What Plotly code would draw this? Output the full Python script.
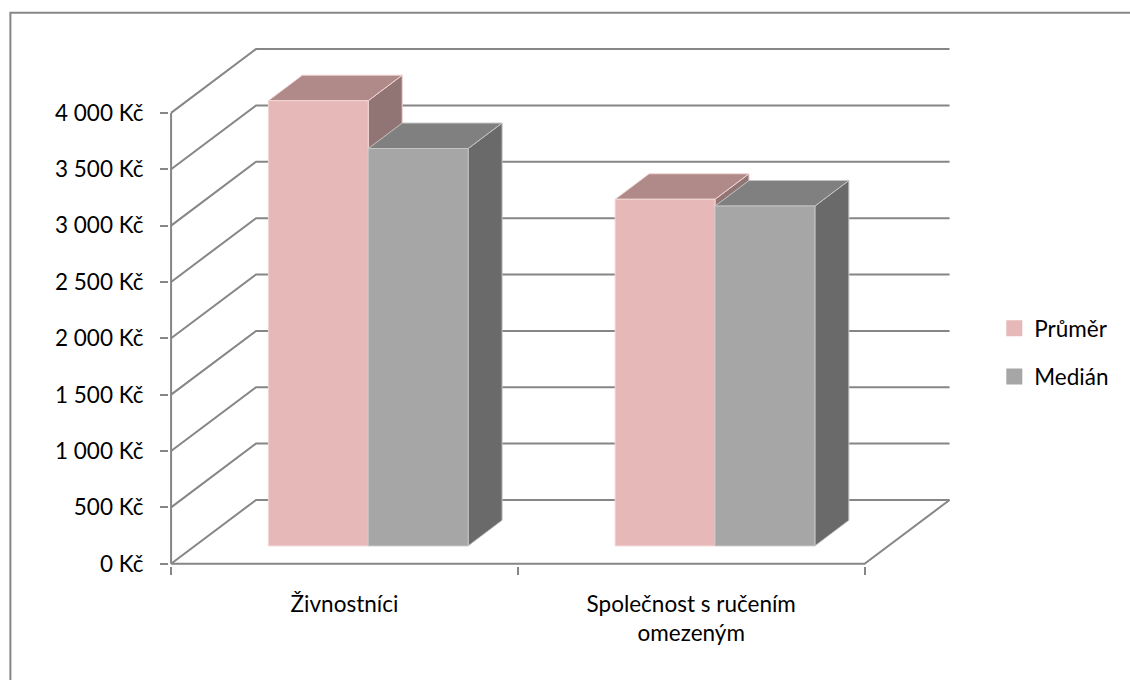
import plotly.graph_objects as go

# ---- data -------------------------------------------------------------
categories = ["Živnostníci", "Společnost s ručením<br>omezeným"]
series_names = ["Průměr", "Medián"]
prumer = [3950, 3075]
median = [3525, 3015]
y_ticks = [0, 500, 1000, 1500, 2000, 2500, 3000, 3500, 4000]
y_tick_labels = ["0 Kč", "500 Kč", "1 000 Kč", "1 500 Kč", "2 000 Kč",
                 "2 500 Kč", "3 000 Kč", "3 500 Kč", "4 000 Kč"]

# ---- look -------------------------------------------------------------
FONT = "Lato"
FONT_SIZE = 22.5
TEXT = "#000000"
GRID = "#868686"
front_col = ["#E6B9B8", "#A6A6A6"]
top_col = ["#B08A89", "#808080"]
side_col = ["#917574", "#6A6A6A"]
edge_col = ["#F2D6D5", "#C4C4C4"]

# oblique depth: full depth shifts by DX category units and DY Kč
DX = 0.245
DY = 566.0
D0, D1 = 0.28, 0.68        # depth band occupied by the bars
BAR_W = 0.288              # width of one bar, in category units

X0, X1 = -0.5, len(categories) - 0.5


def proj(x, y, d):
    return x + d * DX, y + d * DY


def poly(points):
    xs = [p[0] for p in points] + [points[0][0]]
    ys = [p[1] for p in points] + [points[0][1]]
    return xs, ys


fig = go.Figure()

# walls: gridlines on the left side wall and back wall
for t in y_ticks:
    a = proj(X0, t, 0)
    b = proj(X0, t, 1)
    c = proj(X1, t, 1)
    fig.add_trace(go.Scatter(x=[a[0], b[0], c[0]], y=[a[1], b[1], c[1]],
                             mode="lines", line=dict(color=GRID, width=2),
                             hoverinfo="skip", showlegend=False))
# floor: front edge and right edge
fr = proj(X1, 0, 0)
br = proj(X1, 0, 1)
fig.add_trace(go.Scatter(x=[X0, fr[0], br[0]], y=[0, fr[1], br[1]],
                         mode="lines", line=dict(color=GRID, width=2),
                         hoverinfo="skip", showlegend=False))
# front value axis line
fig.add_trace(go.Scatter(x=[X0, X0], y=[0, y_ticks[-1]], mode="lines",
                         line=dict(color=GRID, width=2),
                         hoverinfo="skip", showlegend=False))


def add_box(x_left, x_right, v, k, name):
    front = [proj(x_left, 0, D0), proj(x_right, 0, D0),
             proj(x_right, v, D0), proj(x_left, v, D0)]
    top = [proj(x_left, v, D0), proj(x_right, v, D0),
           proj(x_right, v, D1), proj(x_left, v, D1)]
    side = [proj(x_right, 0, D0), proj(x_right, 0, D1),
            proj(x_right, v, D1), proj(x_right, v, D0)]
    for pts, col in ((side, side_col[k]), (top, top_col[k]), (front, front_col[k])):
        xs, ys = poly(pts)
        fig.add_trace(go.Scatter(x=xs, y=ys, mode="lines", fill="toself",
                                 fillcolor=col,
                                 line=dict(color=edge_col[k], width=1),
                                 name=name, hoverinfo="skip", showlegend=False))


series = [prumer, median]
for i, _ in enumerate(categories):
    for k, vals in enumerate(series):
        left = i - BAR_W + k * BAR_W
        add_box(left, left + BAR_W, vals[i], k, series_names[k])

# legend entries
for k, name in enumerate(series_names):
    fig.add_trace(go.Scatter(x=[None], y=[None], mode="markers", name=name,
                             legendgroup=name,
                             marker=dict(symbol="square", size=16,
                                         color=front_col[k])))

# ---- layout -----------------------------------------------------------
PX_X = 346.8     # pixels per category
PX_Y = 0.1127    # pixels per Kč
xr = [X0 - 0.006, X1 + DX + 0.007]
yr = [-20, 4620]
left_px = 170.7 - 0.006 * PX_X
right_px = left_px + (xr[1] - xr[0]) * PX_X
bottom_px = 563.5 + 20 * PX_Y
top_px = 563.5 - yr[1] * PX_Y
W, H = 1130, 680


def px_to_paper_x(px):
    return (px - left_px) / (right_px - left_px)


def px_to_paper_y(py):
    return (bottom_px - py) / (bottom_px - top_px)


fig.update_layout(
    width=W, height=H,
    margin=dict(l=left_px, r=W - right_px, t=top_px, b=H - bottom_px,
                autoexpand=False),
    paper_bgcolor="white", plot_bgcolor="white",
    font=dict(family=FONT, size=FONT_SIZE, color=TEXT),
    showlegend=True,
    legend=dict(x=px_to_paper_x(994), y=px_to_paper_y(307),
                xanchor="left", yanchor="top",
                font=dict(family=FONT, size=FONT_SIZE, color=TEXT),
                tracegroupgap=16, bgcolor="rgba(0,0,0,0)"),
    xaxis=dict(range=xr, tickmode="array", tickvals=list(range(len(categories))),
               ticktext=categories, ticks="", showgrid=False, zeroline=False,
               showline=False, ticklabelstandoff=22,
               minor=dict(tickmode="array",
                          tickvals=[X0 + i for i in range(len(categories) + 1)],
                          ticks="outside", ticklen=8, tickwidth=2,
                          tickcolor=GRID, showgrid=False)),
    yaxis=dict(range=yr, tickmode="array", tickvals=y_ticks,
               ticktext=y_tick_labels, ticks="outside", ticklen=8,
               tickwidth=2, tickcolor=GRID, showgrid=False, zeroline=False,
               showline=False, ticklabelstandoff=12),
    shapes=[dict(type="rect", xref="paper", yref="paper",
                 x0=px_to_paper_x(10), x1=px_to_paper_x(1140),
                 y0=px_to_paper_y(690), y1=px_to_paper_y(12.5),
                 line=dict(color=GRID, width=2), layer="below")],
)

fig.write_html("out.html")
